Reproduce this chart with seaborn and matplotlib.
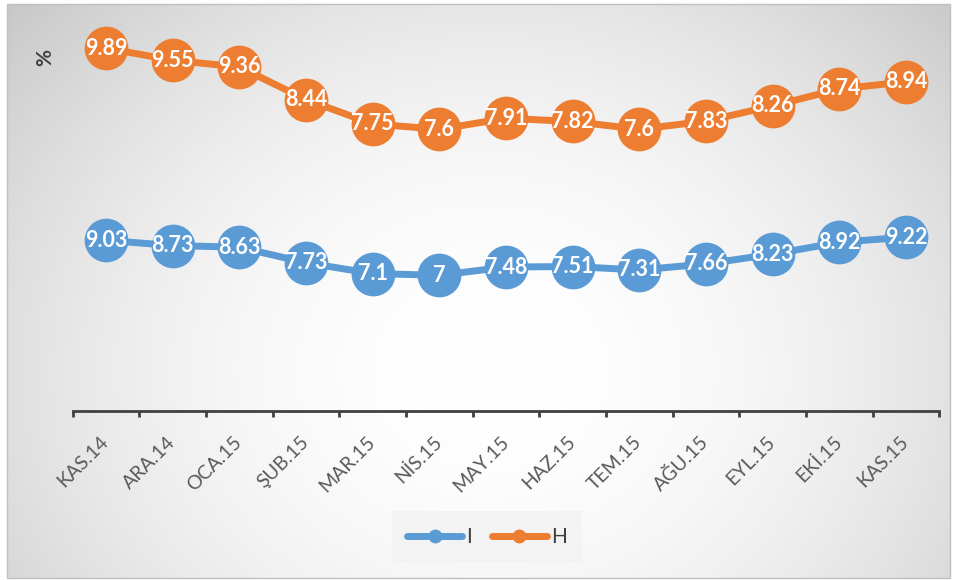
import numpy as np
import pandas as pd
import matplotlib
matplotlib.use("Agg")
import matplotlib.pyplot as plt
import matplotlib.transforms as mtransforms
from matplotlib.lines import Line2D
from matplotlib.patches import Rectangle
import seaborn as sns

months = ["KAS.14", "ARA.14", "OCA.15", "ŞUB.15", "MAR.15", "NİS.15", "MAY.15",
          "HAZ.15", "TEM.15", "AĞU.15", "EYL.15", "EKİ.15", "KAS.15"]
series_I = [9.03, 8.73, 8.63, 7.73, 7.1, 7, 7.48, 7.51, 7.31, 7.66, 8.23, 8.92, 9.22]
series_H = [9.89, 9.55, 9.36, 8.44, 7.75, 7.6, 7.91, 7.82, 7.6, 7.83, 8.26, 8.74, 8.94]
labels_I = ["9.03", "8.73", "8.63", "7.73", "7.1", "7", "7.48", "7.51", "7.31", "7.66", "8.23", "8.92", "9.22"]
labels_H = ["9.89", "9.55", "9.36", "8.44", "7.75", "7.6", "7.91", "7.82", "7.6", "7.83", "8.26", "8.74", "8.94"]
series_names = ["I", "H"]

BLUE = "#5B9BD5"
ORANGE = "#ED7D31"
DARK = "#404040"

sns.set_theme(style="white")
plt.rcParams["font.family"] = ["Lato", "DejaVu Sans"]

W, H = 956, 580
fig = plt.figure(figsize=(W / 100, H / 100), dpi=100)

# background with radial gradient inside a light border
bg = fig.add_axes([0, 0, 1, 1], zorder=-10)
yy, xx = np.mgrid[0:H, 0:W]
cx, cy, rx, ry = 490, 370, 560, 480
r2 = ((xx - cx) / rx) ** 2 + ((yy - cy) / ry) ** 2
val = 1 - 0.166 * r2
img = np.ones((H, W))
x0, x1, y0, y1 = 7, 950, 4, 578
img[y0:y1, x0:x1] = val[y0:y1, x0:x1]
bg.imshow(np.dstack([img, img, img]), extent=[0, W, H, 0], aspect="auto", interpolation="bilinear")
bg.add_patch(Rectangle((x0, y0), x1 - x0, y1 - y0, fill=False, edgecolor="#bfbfbf", linewidth=1.0))
bg.set_xlim(0, W)
bg.set_ylim(H, 0)
bg.axis("off")

# main axes
left_px, right_px, top_px, bot_px = 72.7, 939.3, 20, 411
ax = fig.add_axes([left_px / W, 1 - bot_px / H, (right_px - left_px) / W, (bot_px - top_px) / H])
ax.patch.set_visible(False)
ax2 = ax.twinx()
ax2.patch.set_visible(False)

df = pd.DataFrame({"pos": np.arange(len(months)), "I": series_I, "H": series_H})

sns.lineplot(data=df, x="pos", y="I", ax=ax, color=BLUE, linewidth=5, marker="o",
             markersize=31.5, markeredgewidth=0, clip_on=False)
sns.lineplot(data=df, x="pos", y="H", ax=ax2, color=ORANGE, linewidth=5, marker="o",
             markersize=31.5, markeredgewidth=0, clip_on=False)

for i, (v, t) in enumerate(zip(series_I, labels_I)):
    ax.text(i, v, t, ha="center", va="center", color="white", fontsize=15.5,
            fontweight="bold", zorder=10)
for i, (v, t) in enumerate(zip(series_H, labels_H)):
    ax2.text(i, v, t, ha="center", va="center", color="white", fontsize=15.5,
             fontweight="bold", zorder=10)

ax.set_xlim(-0.5, len(months) - 0.5)
ax.set_ylim(-0.888, 21.84)
ax2.set_ylim(-0.359, 10.687)

for a in (ax, ax2):
    a.set_xlabel("")
    a.set_ylabel("")
    a.set_yticks([])
    for s in ("top", "left", "right", "bottom"):
        a.spines[s].set_visible(False)

ax.spines["bottom"].set_visible(True)
ax.spines["bottom"].set_color(DARK)
ax.spines["bottom"].set_linewidth(2.0)

ax.set_xticks(np.arange(len(months)))
ax.set_xticklabels(months, rotation=45, ha="right", fontsize=14, color="#595959")
ax.tick_params(axis="x", which="major", length=0, pad=16)
ax.set_xticks(np.arange(-0.5, len(months), 1), minor=True)
ax.tick_params(axis="x", which="minor", length=4.5, width=2.0, color=DARK, direction="out", bottom=True)
offset = mtransforms.ScaledTranslation(6 / 100, 0, fig.dpi_scale_trans)
for lab in ax.get_xticklabels():
    lab.set_transform(lab.get_transform() + offset)

fig.text(45 / W, 1 - 57 / H, "%", rotation=90, ha="center", va="center",
         fontsize=15, fontweight="bold", color=DARK)

handles = [Line2D([0], [0], color=BLUE, lw=5, marker="o", markersize=10, markeredgewidth=0,
                  solid_capstyle="round"),
           Line2D([0], [0], color=ORANGE, lw=5, marker="o", markersize=10, markeredgewidth=0,
                  solid_capstyle="round")]
leg = fig.legend(handles, series_names, loc="center", bbox_to_anchor=(487 / W, 1 - 537 / H),
                 ncol=2, frameon=True, fontsize=15, handlelength=2.6, columnspacing=1.0,
                 handletextpad=0.2, borderpad=0.45)
leg.get_frame().set_facecolor("#f2f2f2")
leg.get_frame().set_edgecolor("none")
leg.get_frame().set_boxstyle("square")
for t in leg.get_texts():
    t.set_color(DARK)

fig.savefig("out.png", dpi=100)
